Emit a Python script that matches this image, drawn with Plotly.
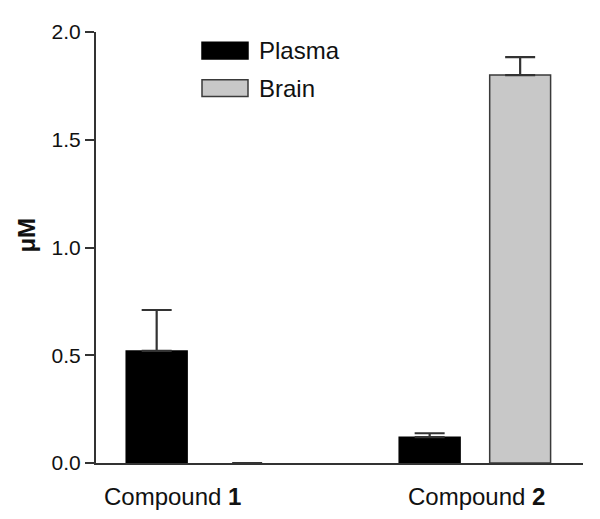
import plotly.graph_objects as go

categories = ["Compound 1", "Compound 2"]
category_labels = ["Compound <b>1</b>", "Compound <b>2</b>"]
series_names = ["Plasma", "Brain"]
plasma_values = [0.52, 0.12]
plasma_errors = [0.19, 0.018]
brain_values = [0.0, 1.80]
brain_errors = [0.0, 0.083]
y_tickvals = [0.0, 0.5, 1.0, 1.5, 2.0]
y_ticktext = ["0.0", "0.5", "1.0", "1.5", "2.0"]

FONT = "Liberation Sans, Arial, sans-serif"
fill_colors = ["#000000", "#c8c8c8"]
edge_colors = ["#000000", "#3a3a3a"]
err_color = "#333333"

fig = go.Figure()
for name, vals, errs, fc, ec in zip(series_names, [plasma_values, brain_values],
                                    [plasma_errors, brain_errors], fill_colors, edge_colors):
    fig.add_trace(go.Bar(
        name=name, x=categories, y=vals,
        marker=dict(color=fc, line=dict(color=ec, width=[1.5 if v > 0 else 0 for v in vals])),
        error_y=dict(type="data", array=errs, symmetric=False, arrayminus=[0]*len(errs),
                     color=err_color, thickness=2.2, width=15),
        showlegend=False,
    ))

# page body has an 8px default margin; compensate so the plot lands where intended
fig.update_layout(
    width=592, height=511,
    margin=dict(l=88, r=17, t=17, b=56),
    paper_bgcolor="white", plot_bgcolor="white",
    barmode="group", bargap=0.337, bargroupgap=0.327,
    font=dict(family=FONT, color="#111111"),
    xaxis=dict(range=[-0.388, 1.396], showticklabels=False, ticks="",
               showline=True, linecolor="#333333", linewidth=2, showgrid=False,
               zeroline=False),
    yaxis=dict(range=[0, 2.0], tickvals=y_tickvals, ticktext=y_ticktext,
               ticks="outside", ticklen=9, tickwidth=2, tickcolor="#333333",
               showline=True, linecolor="#333333", linewidth=2, showgrid=False,
               zeroline=False, tickfont=dict(size=21, family=FONT, color="#111111")),
)

# y-axis title
fig.add_annotation(text="<b>μM</b>", textangle=-90, xref="paper", yref="paper",
                   x=-0.1417, y=0.53, xanchor="center", yanchor="middle",
                   showarrow=False, font=dict(size=24, family=FONT, color="#111111"))

# category labels
shifts = [-29, 2]
for cat, lab, sh in zip(categories, category_labels, shifts):
    fig.add_annotation(text=lab, x=cat, xref="x", yref="paper", y=-0.0776,
                       xanchor="center", yanchor="middle", xshift=sh, showarrow=False,
                       font=dict(size=24, family=FONT, color="#111111"))

# legend (larger swatches)
leg_y = [0.957, 0.870]
for name, fc, ec, ly in zip(series_names, fill_colors, edge_colors, leg_y):
    fig.add_shape(type="rect", xref="paper", yref="paper",
                  x0=(202 - 96) / 487, x1=(248 - 96) / 487,
                  y0=ly - 8.5 / 438, y1=ly + 8.5 / 438,
                  fillcolor=fc, line=dict(color=ec, width=1.5))
    fig.add_annotation(text=name, xref="paper", yref="paper",
                       x=(257 - 96) / 487, y=ly, xanchor="left", yanchor="middle",
                       showarrow=False, font=dict(size=24, family=FONT, color="#111111"))

fig.write_html("out.html")
